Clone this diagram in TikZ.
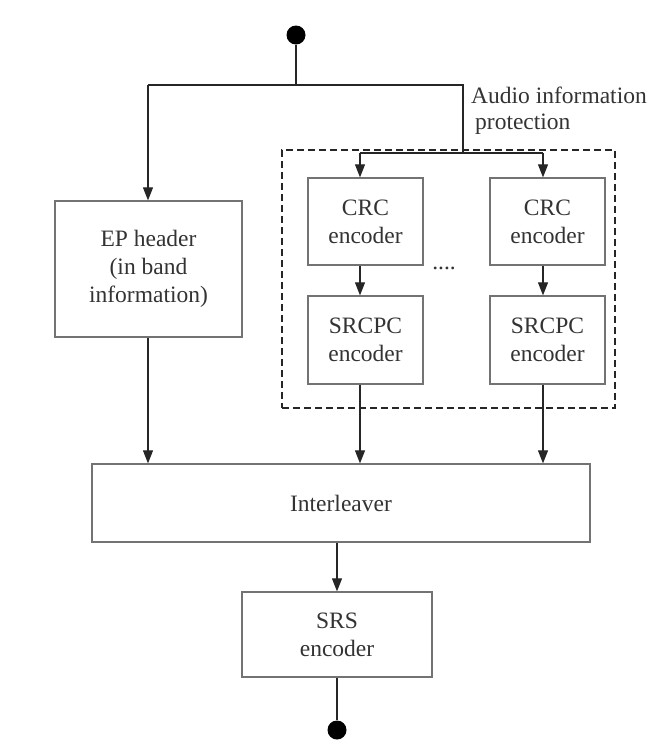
\documentclass[tikz,border=0pt]{standalone}
\usepackage{fontspec}
\setmainfont{Liberation Serif}
\usetikzlibrary{arrows.meta,calc}
\begin{document}
\begin{tikzpicture}[x=1pt,y=-1pt,
  blk/.style={draw=black!55, line width=1.3pt, text=black!80, align=center,
    font=\fontsize{23.5}{28}\selectfont, inner sep=0pt},
  conn/.style={line width=1.1pt, draw=black!85},
  arr/.style={conn, -{Triangle[length=13pt,width=10pt]}},
  dotnode/.style={circle, fill=black, minimum size=19pt, inner sep=0pt},
  grp/.style={draw=black!85, line width=2.2pt, dash pattern=on 7pt off 4pt}]
\useasboundingbox (0,0) rectangle (653,753);
% group box
\node[grp, minimum width=333pt, minimum height=258pt, inner sep=0pt] (grp) at (448.5,279) {};
% nodes
\node[blk, minimum width=187pt, minimum height=136pt] (ep) at (148.5,269) {EP header\\(in band\\information)};
\node[blk, minimum width=115pt, minimum height=87pt] (crc1) at (365.5,221.5) {CRC\\encoder};
\node[blk, minimum width=115pt, minimum height=87pt] (crc2) at (547.5,221.5) {CRC\\encoder};
\node[blk, minimum width=115pt, minimum height=88pt] (src1) at (365.5,340) {SRCPC\\encoder};
\node[blk, minimum width=115pt, minimum height=88pt] (src2) at (547.5,340) {SRCPC\\encoder};
\node[blk, minimum width=498pt, minimum height=78pt] (il) at (341,503) {Interleaver};
\node[blk, minimum width=190pt, minimum height=85pt] (srs) at (337,634.5) {SRS\\encoder};
\node[dotnode] (top) at (296,35) {};
\node[dotnode] (bot) at (337,730) {};
\node[text=black!80, font=\fontsize{23.5}{26}\selectfont, align=left, anchor=north west, inner sep=0pt] (lab) at (471,87) {Audio information\\\hspace{4pt}protection};
\node[text=black!80, font=\fontsize{23.5}{26}\selectfont, inner sep=0pt] (dots) at (444,268) {....};
% junction coordinates
\coordinate (j0) at (296,85);
\coordinate (jl) at (148,85);
\coordinate (jr) at (463,85);
\coordinate (jm) at (463,153);
\coordinate (b1) at (360,153);
\coordinate (b2) at (543,153);
% connectors
\draw[conn] (top) -- (j0);
\draw[conn] (jl) -- (jr) -- (jm);
\draw[conn] (b1) -- (b2);
\draw[arr] (jl) -- (jl |- ep.north);
\draw[arr] (b1) -- (b1 |- crc1.north);
\draw[arr] (b2) -- (b2 |- crc2.north);
\draw[arr] (b1 |- crc1.south) -- (b1 |- src1.north);
\draw[arr] (b2 |- crc2.south) -- (b2 |- src2.north);
\draw[arr] (jl |- ep.south) -- (jl |- il.north);
\draw[arr] (b1 |- src1.south) -- (b1 |- il.north);
\draw[arr] (b2 |- src2.south) -- (b2 |- il.north);
\draw[arr] (srs.north |- il.south) -- (srs.north);
\draw[conn] (srs.south) -- (bot);
\end{tikzpicture}
\end{document}
